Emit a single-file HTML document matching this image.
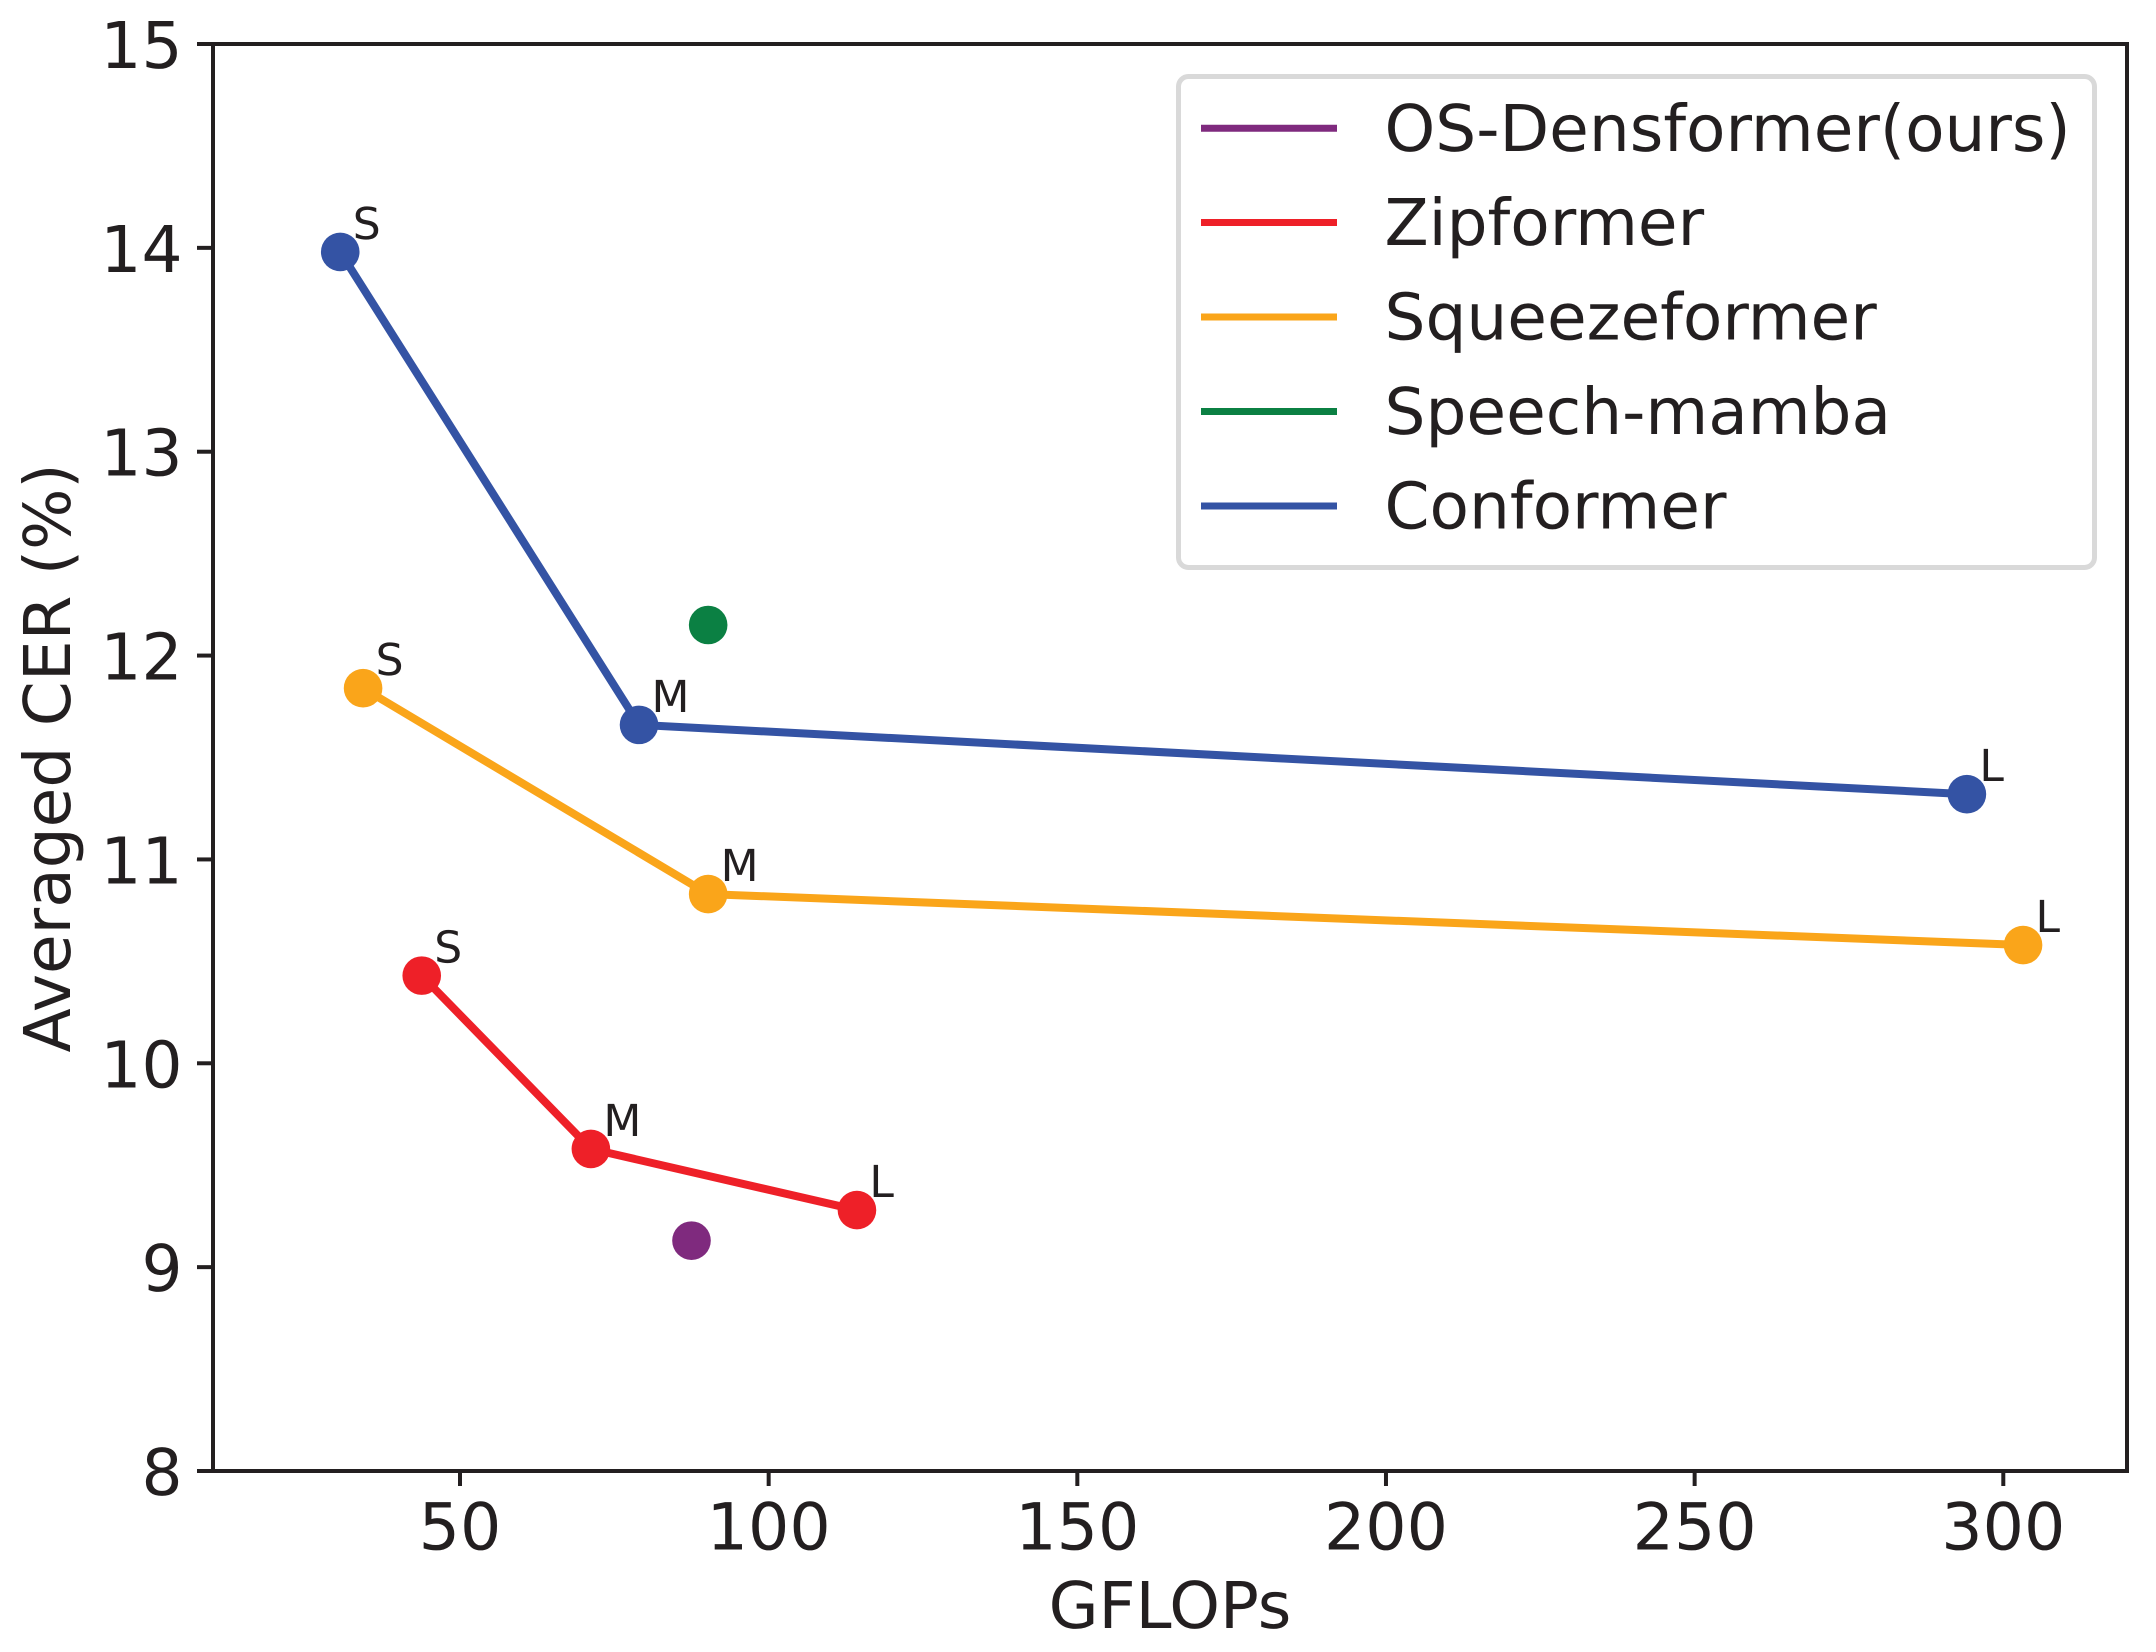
<!DOCTYPE html>
<html lang="en">
<head>
<meta charset="utf-8">
<title>Averaged CER vs GFLOPs</title>
<style>
  html, body { margin: 0; padding: 0; background: #fff; }
  svg { display: block; }
  text { font-family: "DejaVu Sans", "Liberation Sans", sans-serif; fill: #231f20; text-rendering: geometricPrecision; }
</style>
</head>
<body>
<svg id="chart" xmlns="http://www.w3.org/2000/svg" width="2156" height="1652" viewBox="0 0 2156 1652">
  <rect x="0" y="0" width="2156" height="1652" fill="#ffffff"/>
  <g id="ticks"></g>
  <g id="marks"></g>
  <rect x="213" y="44" width="1914" height="1427" fill="none" stroke="#231f20" stroke-width="4"/>
  <text x="1170" y="1628" font-size="64.5" text-anchor="middle">GFLOPs</text>
  <text transform="translate(70 758) rotate(-90)" font-size="64.5" text-anchor="middle">Averaged CER (%)</text>
  <g>
    <rect x="1178.5" y="76.5" width="916" height="491" rx="10" ry="10" fill="#ffffff" stroke="#d9d9d9" stroke-width="5"/>
    <g>
      <line x1="1201" x2="1337" y1="128.3" y2="128.3" stroke="#7f2a7e" stroke-width="7"/>
      <text x="1384.5" y="151" font-size="64.5">OS-Densformer(ours)</text>
    </g>
    <g>
      <line x1="1201" x2="1337" y1="222.5" y2="222.5" stroke="#ee2028" stroke-width="7"/>
      <text x="1384.5" y="245" font-size="64.5">Zipformer</text>
    </g>
    <g>
      <line x1="1201" x2="1337" y1="317" y2="317" stroke="#faa51a" stroke-width="7"/>
      <text x="1384.5" y="339.5" font-size="64.5">Squeezeformer</text>
    </g>
    <g>
      <line x1="1201" x2="1337" y1="411.5" y2="411.5" stroke="#0b8043" stroke-width="7"/>
      <text x="1384.5" y="434" font-size="64.5">Speech-mamba</text>
    </g>
    <g>
      <line x1="1201" x2="1337" y1="506" y2="506" stroke="#3453a4" stroke-width="7"/>
      <text x="1384.5" y="528.5" font-size="64.5">Conformer</text>
    </g>
  </g>
</svg>
<script>
// Chart data
const xTickValues = [50, 100, 150, 200, 250, 300];
const yTickValues = [8, 9, 10, 11, 12, 13, 14, 15];
const sizeLabels = ['S', 'M', 'L'];

const conformerGflops = [30.6, 79, 294.1];
const conformerCer = [13.98, 11.66, 11.32];
const squeezeformerGflops = [34.3, 90.2, 303.2];
const squeezeformerCer = [11.84, 10.83, 10.58];
const zipformerGflops = [43.8, 71.2, 114.3];
const zipformerCer = [10.43, 9.58, 9.28];
const speechMambaGflops = [90.2];
const speechMambaCer = [12.15];
const densformerGflops = [87.5];
const densformerCer = [9.13];

// Axis functions
const xScale = function (v) { return 460 + (v - 50) * (2003.3 - 460) / 250; };
const yScale = function (v) { return 1471 - (v - 8) * (1471 - 44) / 7; };

const NS = 'http://www.w3.org/2000/svg';
const ticksLayer = document.getElementById('ticks');
const marksLayer = document.getElementById('marks');

xTickValues.forEach(function (v) {
  const t = document.createElementNS(NS, 'line');
  
  
  t.setAttribute('x1', xScale(v));
  t.setAttribute('x2', xScale(v));
  t.setAttribute('y1', 1471);
  t.setAttribute('y2', 1486);
  t.setAttribute('stroke', '#231f20');
  t.setAttribute('stroke-width', 4);
  ticksLayer.appendChild(t);
  const l = document.createElementNS(NS, 'text');
  
  
  l.setAttribute('x', xScale(v));
  l.setAttribute('y', 1549.5);
  l.setAttribute('font-size', 65);
  l.setAttribute('text-anchor', 'middle');
  l.textContent = String(v);
  ticksLayer.appendChild(l);
});

yTickValues.forEach(function (v) {
  const t = document.createElementNS(NS, 'line');
  
  
  t.setAttribute('x1', 197);
  t.setAttribute('x2', 213);
  t.setAttribute('y1', yScale(v));
  t.setAttribute('y2', yScale(v));
  t.setAttribute('stroke', '#231f20');
  t.setAttribute('stroke-width', 4);
  ticksLayer.appendChild(t);
  const l = document.createElementNS(NS, 'text');
  
  
  l.setAttribute('x', 182.5);
  l.setAttribute('y', yScale(v) + 24);
  l.setAttribute('font-size', 64.5);
  l.setAttribute('text-anchor', 'end');
  l.textContent = String(v);
  ticksLayer.appendChild(l);
});

function drawSeries(seriesName, xs, ys, color, labels) {
  const group = document.createElementNS(NS, 'g');
  
  
  marksLayer.appendChild(group);

  if (xs.length > 1) {
    const line = document.createElementNS(NS, 'polyline');
    
    
    line.setAttribute('points', xs.map(function (x, i) { return xScale(x) + ',' + yScale(ys[i]); }).join(' '));
    line.setAttribute('fill', 'none');
    line.setAttribute('stroke', color);
    line.setAttribute('stroke-width', 8);
    line.setAttribute('stroke-linejoin', 'round');
    group.appendChild(line);
  }

  xs.forEach(function (x, i) {
    const dot = document.createElementNS(NS, 'circle');
    
    
    dot.setAttribute('cx', xScale(x));
    dot.setAttribute('cy', yScale(ys[i]));
    dot.setAttribute('r', 19.3);
    dot.setAttribute('fill', color);
    group.appendChild(dot);
    if (labels) {
      const txt = document.createElementNS(NS, 'text');
      
      
      txt.setAttribute('x', xScale(x) + 12.5);
      txt.setAttribute('y', yScale(ys[i]) - 13);
      txt.setAttribute('font-size', 44);
      txt.textContent = labels[i];
      group.appendChild(txt);
    }
  });
}

drawSeries('conformer', conformerGflops, conformerCer, '#3453a4', sizeLabels);
drawSeries('squeezeformer', squeezeformerGflops, squeezeformerCer, '#faa51a', sizeLabels);
drawSeries('zipformer', zipformerGflops, zipformerCer, '#ee2028', sizeLabels);
drawSeries('speech-mamba', speechMambaGflops, speechMambaCer, '#0b8043', null);
drawSeries('os-densformer', densformerGflops, densformerCer, '#7f2a7e', null);
</script>
</body>
</html>
